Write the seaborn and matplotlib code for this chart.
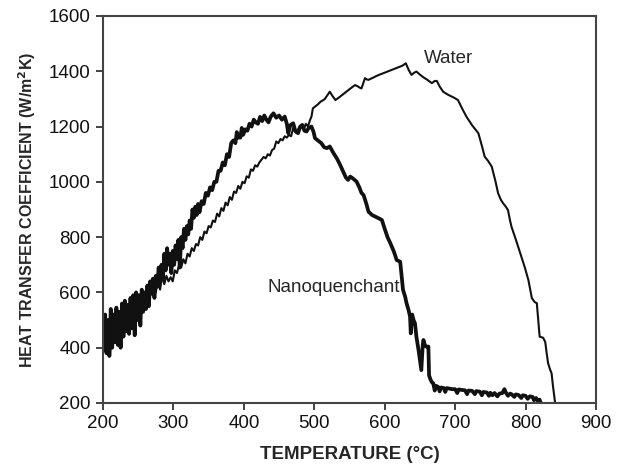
import numpy as np
import pandas as pd
import seaborn as sns
import matplotlib
matplotlib.use("Agg")
import matplotlib.pyplot as plt

# Nanoquenchant curve (thick line)
nano_t = [200, 201, 203, 205, 207, 209, 211, 213, 215, 217, 219, 221, 223, 225, 227, 229,
          231, 233, 235, 237, 239, 241, 243, 245, 247, 249, 251, 253, 255, 257, 259, 261,
          263, 265, 267, 269, 271, 273, 275, 277, 279, 281, 283, 285, 287, 289, 291, 293,
          295, 297, 299, 301, 303, 305, 307, 309, 311, 313, 315, 317, 319, 321, 323, 325,
          327, 329, 331, 333, 335, 337, 340, 343, 346, 349, 352, 355, 358, 361, 364, 367,
          370, 373, 376, 379, 382, 385, 388, 390, 392, 395, 397, 399, 402, 405, 408, 411,
          414, 417, 420, 423, 426, 429, 432, 435, 438, 442, 446, 450, 454, 458, 461, 463,
          466, 470, 473, 477, 480, 483, 486, 489, 492, 496, 499, 501, 505, 510, 514, 518,
          522, 527, 532, 536, 541, 545, 548, 551, 555, 560, 564, 567, 570, 574, 577, 582,
          590, 596, 600, 604, 608, 613, 617, 622, 624, 626, 629, 631, 634, 636, 637, 639,
          641, 643, 645, 648, 650, 652, 654, 655, 657, 659, 662, 663, 665, 667, 669, 671,
          673, 676, 678, 680, 684, 686, 688, 692, 696, 700, 703, 705, 710, 714, 717, 719,
          724, 728, 730, 735, 738, 740, 745, 748, 750, 753, 756, 760, 763, 767, 770, 772,
          775, 778, 780, 784, 786, 790, 794, 796, 800, 803, 806, 810, 812, 815, 818, 820,
          822, 823]
nano_h = [470, 390, 520, 380, 500, 370, 540, 400, 520, 420, 545, 410, 530, 400, 560, 440,
          570, 460, 555, 450, 580, 470, 590, 445, 600, 500, 590, 480, 610, 530, 600, 540,
          625, 550, 640, 600, 650, 580, 660, 620, 690, 640, 700, 650, 740, 680, 760, 700,
          740, 670, 750, 700, 770, 720, 790, 690, 800, 760, 830, 790, 840, 810, 860, 830,
          900, 870, 910, 880, 920, 890, 930, 920, 960, 950, 980, 970, 1000, 1000, 1040, 1040,
          1070, 1060, 1100, 1090, 1140, 1150, 1140, 1180, 1160, 1160, 1195, 1170, 1190, 1185, 1210, 1200,
          1225, 1215, 1210, 1235, 1220, 1240, 1225, 1215, 1235, 1248, 1232, 1240, 1225, 1236, 1210, 1176,
          1205, 1212, 1185, 1176, 1200, 1206, 1185, 1182, 1195, 1200, 1180, 1158, 1150, 1140, 1125, 1122,
          1128, 1105, 1085, 1065, 1037, 1015, 1007, 1019, 1012, 1001, 980, 960, 952, 920, 892, 880,
          870, 862, 830, 800, 778, 748, 717, 711, 660, 609, 585, 561, 535, 512, 452, 520,
          500, 488, 440, 392, 355, 319, 410, 428, 410, 404, 404, 300, 285, 275, 271, 245,
          262, 258, 242, 256, 254, 240, 254, 252, 250, 250, 236, 249, 247, 246, 232, 245,
          244, 232, 243, 241, 228, 240, 238, 226, 237, 228, 236, 224, 234, 236, 250, 238,
          226, 234, 232, 222, 231, 229, 218, 228, 226, 215, 224, 222, 210, 218, 205, 212,
          196, 190]

# Water curve (thin line)
water_t = [200, 202, 204, 206, 208, 210, 212, 214, 216, 218, 220, 222, 224, 226, 228, 230,
           232, 234, 236, 238, 240, 242, 244, 246, 248, 250, 252, 254, 256, 258, 260, 262,
           264, 266, 268, 270, 272, 275, 278, 281, 284, 287, 290, 293, 296, 299, 302, 305,
           308, 311, 314, 317, 320, 323, 326, 329, 332, 335, 338, 341, 344, 347, 350, 353,
           356, 359, 362, 365, 368, 371, 374, 377, 380, 383, 386, 389, 392, 395, 398, 401,
           404, 407, 410, 413, 416, 419, 422, 425, 428, 431, 434, 437, 440, 443, 446, 449,
           452, 455, 458, 461, 464, 467, 470, 473, 475, 478, 482, 485, 488, 491, 494, 496,
           498, 501, 505, 509, 513, 515, 519, 522, 526, 530, 535, 540, 545, 550, 555, 558,
           562, 565, 567, 570, 572, 575, 577, 582, 586, 590, 595, 600, 605, 610, 615, 620,
           625, 630, 634, 638, 642, 645, 650, 655, 660, 667, 671, 674, 678, 683, 690, 698,
           704, 710, 716, 724, 733, 738, 742, 747, 752, 757, 761, 765, 768, 772, 775, 778,
           780, 787, 794, 799, 804, 807, 809, 813, 816, 818, 820, 825, 828, 830, 832, 835,
           837, 839, 842]
water_h = [450, 400, 490, 410, 480, 380, 470, 420, 500, 430, 490, 410, 500, 440, 520, 450,
           530, 470, 540, 480, 550, 490, 560, 500, 570, 520, 580, 530, 590, 545, 600, 560,
           610, 570, 620, 590, 630, 600, 650, 610, 660, 630, 660, 640, 655, 640, 680, 670,
           700, 690, 720, 705, 740, 730, 760, 750, 775, 770, 800, 790, 820, 814, 840, 835,
           860, 855, 885, 875, 905, 895, 925, 915, 945, 935, 965, 960, 985, 975, 1000, 995,
           1020, 1015, 1045, 1040, 1060, 1055, 1070, 1080, 1090, 1085, 1100, 1095, 1115, 1120, 1146, 1140,
           1155, 1150, 1165, 1160, 1170, 1165, 1194, 1180, 1176, 1195, 1206, 1190, 1210, 1200, 1224, 1236,
           1266, 1272, 1280, 1290, 1296, 1300, 1315, 1326, 1310, 1296, 1305, 1315, 1325, 1335, 1345, 1350,
           1345, 1340, 1338, 1360, 1375, 1370, 1369, 1375, 1380, 1385, 1390, 1395, 1400, 1405, 1410, 1415,
           1420, 1429, 1405, 1387, 1395, 1399, 1388, 1378, 1370, 1357, 1365, 1365, 1345, 1326, 1315, 1305,
           1296, 1265, 1236, 1205, 1176, 1130, 1091, 1075, 1055, 1005, 959, 935, 923, 910, 898, 860,
           838, 785, 729, 690, 645, 605, 579, 565, 561, 500, 440, 436, 420, 380, 344, 320,
           307, 260, 200]

nano = pd.DataFrame({"t": nano_t, "h": nano_h})
water = pd.DataFrame({"t": water_t, "h": water_h})

sns.set_style("ticks")
plt.rcParams["font.family"] = ["Liberation Sans", "DejaVu Sans"]

fig = plt.figure(figsize=(6.21, 4.66), dpi=100)
ax = fig.add_axes([0.1659, 0.1352, 0.7938, 0.8305])

sns.lineplot(data=water, x="t", y="h", estimator=None, sort=False,
             color="#111111", linewidth=1.5, ax=ax)
sns.lineplot(data=nano, x="t", y="h", estimator=None, sort=False,
             color="#111111", linewidth=2.7, ax=ax)

ax.set_xlim(200, 900)
ax.set_ylim(200, 1600)
ax.set_xticks(range(200, 901, 100))
ax.set_yticks(range(200, 1601, 200))
ax.tick_params(direction="out", length=5, width=1.3, color="#333333",
               labelcolor="#111111", labelsize=13.5, pad=4)
for s in ax.spines.values():
    s.set_color("#444444")
    s.set_linewidth(1.5)

ax.set_xlabel("TEMPERATURE (°C)", fontsize=13.5, fontweight="bold", labelpad=10)
ax.set_ylabel("HEAT TRANSFER COEFFICIENT (W/m$\\mathbf{^2}$K)", fontsize=11.5,
              fontweight="bold", labelpad=8)

ax.text(691, 1448, "Water", fontsize=13.5, ha="center", va="center")
ax.text(527, 617, "Nanoquenchant", fontsize=13.5, ha="center", va="center")

fig.savefig("out.png", dpi=100)
